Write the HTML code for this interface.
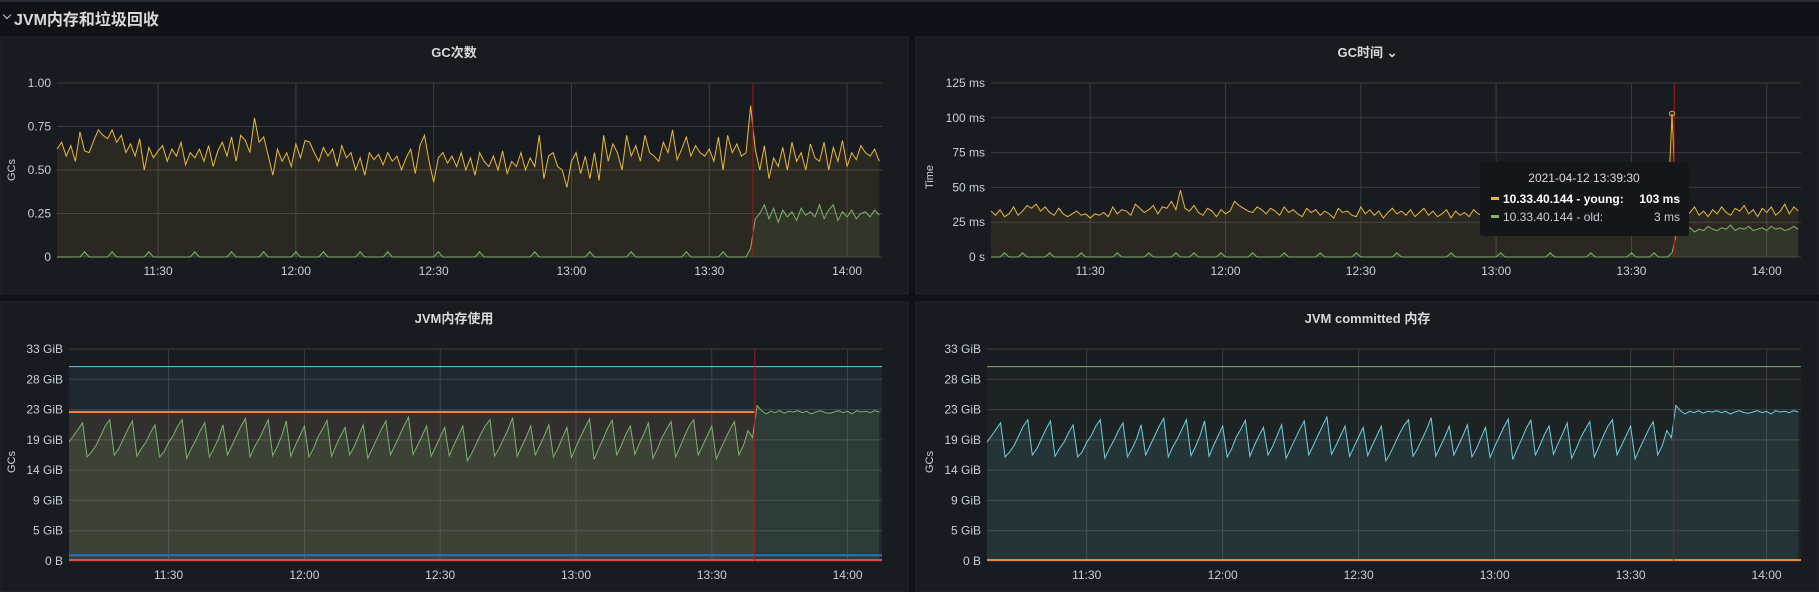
<!DOCTYPE html>
<html><head><meta charset="utf-8"><style>
html,body{margin:0;padding:0;background:#111217;width:1819px;height:592px;overflow:hidden;font-family:"Liberation Sans","Noto Sans CJK SC",sans-serif;}
#hdr{position:absolute;left:0;top:0;width:1819px;height:36px;background:#111217;border-top:2px solid #2a2b30;box-sizing:border-box;}
#hdr span{position:absolute;left:14px;top:4px;color:#d8d9da;font-size:16px;font-weight:bold;}
#hdr i{position:absolute;left:4px;top:10px;width:5px;height:5px;border-right:1.5px solid #c7d0d9;border-bottom:1.5px solid #c7d0d9;transform:rotate(45deg);}
svg{position:absolute;left:0;top:0;}
</style></head><body>
<div id="hdr"><i></i><span>JVM内存和垃圾回收</span></div>
<svg id="c" width="1819" height="592"></svg>
<script>
const tickLabels=["11:30","12:00","12:30","13:00","13:30","14:00"];
const tickMinutes=[690,720,750,780,810,840];
const tStart=668, tEnd=847.6, hoverMinute=819.5;
const gcYoung=[0.62,0.66,0.58,0.64,0.55,0.72,0.61,0.6,0.67,0.73,0.7,0.68,0.73,0.66,0.7,0.6,0.65,0.58,0.68,0.5,0.63,0.57,0.61,0.64,0.55,0.62,0.58,0.66,0.53,0.6,
0.57,0.62,0.55,0.64,0.52,0.61,0.66,0.58,0.69,0.55,0.7,0.67,0.6,0.8,0.66,0.69,0.58,0.47,0.62,0.55,0.6,0.52,0.65,0.57,0.67,0.66,0.6,0.55,0.63,0.58,
0.62,0.52,0.64,0.57,0.6,0.5,0.57,0.47,0.6,0.56,0.59,0.53,0.6,0.55,0.58,0.5,0.57,0.62,0.48,0.64,0.7,0.55,0.43,0.57,0.6,0.54,0.58,0.52,0.6,0.5,
0.57,0.47,0.6,0.55,0.52,0.58,0.5,0.61,0.48,0.55,0.52,0.6,0.5,0.57,0.52,0.7,0.45,0.58,0.6,0.52,0.5,0.4,0.55,0.6,0.48,0.58,0.45,0.6,0.44,0.7,
0.55,0.65,0.6,0.5,0.7,0.58,0.64,0.55,0.7,0.6,0.58,0.55,0.66,0.6,0.73,0.56,0.62,0.69,0.58,0.64,0.6,0.58,0.62,0.55,0.69,0.5,0.7,0.6,0.65,0.58,
0.6,0.87,0.62,0.5,0.64,0.45,0.57,0.52,0.63,0.5,0.66,0.55,0.6,0.5,0.65,0.57,0.55,0.66,0.5,0.63,0.55,0.67,0.52,0.6,0.56,0.64,0.6,0.58,0.62,0.55];
const gcOld=[0,0,0,0,0,0,0.03,0,0,0,0,0,0.03,0,0,0,0,0,0,0,0.03,0,0,0,0,0,0,0,0,0,0.03,0,0,0,0,0,0,0,0.03,0,0,0,0,0,0,0.03,0,0,0,0,0,0,0.03,0,0,0,0,0,0.03,0,
0,0,0,0,0,0,0.03,0,0,0,0,0,0.03,0,0,0,0,0,0,0,0,0,0,0.03,0,0,0,0,0,0,0,0,0.03,0,0,0,0,0,0,0,0,0,0,0,0.03,0,0,0,0,0,0,0,0,0,0,0,0.03,0,0,0,
0,0,0,0,0,0.03,0,0,0,0,0,0,0,0,0,0,0,0.03,0,0,0,0,0,0,0,0.03,0,0,0,0,0,0.05,0.22,0.25,0.3,0.22,0.28,0.2,0.27,0.23,0.26,0.21,0.28,0.24,0.26,0.23,0.3,0.22,0.27,0.3,0.21,0.26,0.23,0.27,0.22,0.25,0.26,0.23,0.27,0.24];
const gcTimeYoung=[33,30,34,29,31,36,30,33,37,35,38,33,36,32,30,35,31,29,31,33,30,31,28,31,30,32,29,36,31,34,
33,30,38,35,32,34,37,31,36,35,40,34,48,35,33,37,32,30,35,33,29,34,31,33,40,37,35,33,32,36,
34,31,35,33,30,36,32,34,31,29,35,32,34,30,33,31,28,35,32,33,30,29,36,31,34,30,33,28,32,35,
31,33,30,34,29,32,35,30,33,29,31,34,28,33,30,32,29,34,31,30,28,33,30,27,31,29,26,30,28,27,
30,28,32,29,27,31,30,28,29,26,30,29,31,28,27,30,29,28,27,30,28,26,29,27,30,28,26,29,27,28,30,
103,
30,35,29,32,36,30,33,29,34,31,36,32,30,35,33,37,31,34,29,35,32,36,30,33,38,31,36,33];
const gcTimeOld=[0,0,0,3,0,0,0,3,0,0,0,0,0,3,0,0,0,0,0,0,3,0,0,0,0,0,0,0,3,0,0,0,0,0,0,3,0,0,0,0,0,3,0,0,0,3,0,0,0,0,0,3,0,0,0,0,0,0,3,0,
0,0,0,0,0,3,0,0,0,0,0,0,0,3,0,0,0,0,0,0,0,3,0,0,0,0,0,0,0,0,3,0,0,0,0,0,0,0,0,0,0,0,3,0,0,0,0,0,0,0,0,0,0,3,0,0,0,0,0,0,
0,0,0,0,3,0,0,0,0,0,0,0,0,3,0,0,0,0,0,0,0,0,3,0,0,0,0,3,0,0,0,3,17,20,19,21,18,20,19,22,20,19,21,20,23,19,21,20,22,19,20,21,19,22,20,21,19,20,22,20];
const heapUsed=[18.5,19.5,20.5,21.5,16.2,17,18, 19.5,21,22,16.5,17.5,19,20.5, 21.8,16.3,17.5,18.5,20,21.2,16.2, 17,18.5,19.5,21,22,16,17.5,
18.8,20.3,21.5,16.2,17.5,19,21.2, 16.5,18,19.5,21,22.2,16.2,17.8, 19,20.5,22,16.4,17.8,19.5,21.8, 16.3,18,19.5,21,16.2,17.5,19.3,
20.5,21.9,16.3,18,19.5,20.8,16.5, 17.8,19.5,21.2,16,17.5,19,20.5, 21.8,16.5,18,19.5,21,22.4,16.6, 18,19.5,21,16.3,17.8,19.3,20.8,
16.4,18,19.5,21,15.6,16.8,18.3, 19.8,21.1,22,16.3,17.5,19,20.5, 22.3,16.3,17.8,19.3,21,16.5,18, 19.5,21.2,16.2,17.5,19.2,20.8,16.1,
17.8,19.3,20.8,22.1,15.8,17.5,19, 20.7,21.9,16.5,18,19.7,21,16.6, 18.3,19.8,21.5,16,17.5,19.2,20.5, 21.7,16.2,17.8,19.5,21,22,16.5,
18,19.5,21,15.9,17.5,19,20.5, 21.7,16.5,18,20.3,19.2,
24.2,23.4,22.9,23.3,23.1,23.4,23.0,23.3,23.2,23.4,23.1,23.3,22.9,23.2,23.4,23.1,23.0,23.2,23.4,23.1,23.3,22.9,23.4,23.2,23.3,23.1,23.4,23.2];
const heapMaxTimes=[668,847.6], heapMaxValues=[30.25,30.25];
const heapCommitTimes=[668,819.5], heapCommitValues=[23.2,23.2];
const nonHeapTimes=[668,847.6], nonHeapValues=[0.9,0.9];
const smallTimes=[668,847.6], smallValues=[0.15,0.15];
const gcTicks=[0,0.25,0.5,0.75,1], gcTickLabels=["0","0.25","0.50","0.75","1.00"];
const msTicks=[0,25,50,75,100,125], msTickLabels=["0 s","25 ms","50 ms","75 ms","100 ms","125 ms"];
const memTicks=[0,1,2,3,4,5,6,7], memTickLabels=["0 B","5 GiB","9 GiB","14 GiB","19 GiB","23 GiB","28 GiB","33 GiB"];
const memMax=33;

const NS="http://www.w3.org/2000/svg";
const svg=document.getElementById('c');
function mk(tag,attrs,parent){const e=document.createElementNS(NS,tag);for(const k in attrs)e.setAttribute(k,attrs[k]);(parent||svg).appendChild(e);return e;}
function txt(s,attrs,parent){const e=mk('text',attrs,parent);e.textContent=s;return e;}

function panel(p){
  const g=mk('g',{});
  
  
  const bg=mk('rect',{x:p.px,y:p.py,width:p.pw,height:p.ph,fill:'#181b1f',stroke:'#25272c'},g);
  
  
  const t=txt(p.title,{x:p.px+p.pw/2,y:p.ty,'text-anchor':'middle',fill:'#d8d9da','font-size':13,'font-weight':'bold'},g);
  
  
  const X=m=>p.x0+(m-tStart)/(tEnd-tStart)*(p.x1-p.x0);
  const Y=v=>p.y1-(v/p.ymax)*(p.y1-p.y0);
  p.X=X;p.Y=Y;
  p.yt.forEach((v,i)=>{const y=Y(v*p.tickStep);
    const l=mk('line',{x1:p.x0,x2:p.x1,y1:y,y2:y,stroke:'#3b3d42','stroke-width':1},g);
    
    const tl=txt(p.ytl[i],{x:p.x0-6,y:y+4,'text-anchor':'end',fill:'#c7d0d9','font-size':12},g);
    });
  tickMinutes.forEach((m,i)=>{const x=X(m);
    const l=mk('line',{x1:x,x2:x,y1:p.y0,y2:p.y1,stroke:'#3b3d42','stroke-width':1},g);
    
    const tl=txt(tickLabels[i],{x:x,y:p.y1+18,'text-anchor':'middle',fill:'#c7d0d9','font-size':12},g);
    });
  const at=txt(p.ytitle,{x:0,y:0,transform:`translate(${p.atx},${p.aty}) rotate(-90)`,'text-anchor':'middle',fill:'#c7d0d9','font-size':11},g);
  
  p.series.forEach(s=>{
    const times=s.t||s.v.map((_,i)=>tStart+i);
    const pts=s.v.map((v,i)=>[X(times[i]),Y(v)]);
    if(s.fill){const a=mk('path',{d:'M'+pts[0][0]+','+Y(0)+' L'+pts.map(q=>q.join(',')).join(' L')+' L'+pts[pts.length-1][0]+','+Y(0)+'Z',fill:s.fill},g);
      }
    const l=mk('polyline',{points:pts.map(q=>q.join(',')).join(' '),fill:'none',stroke:s.c,'stroke-width':s.w||1},g);
    
  });
  const hx=X(hoverMinute);
  const hl=mk('line',{x1:hx,x2:hx,y1:p.y0,y2:p.y1,stroke:'#a01818','stroke-width':1},g);
  
  return p;
}
panel({name:'gc-count-panel',title:'GC次数',px:0,py:37,pw:908,ph:257,ty:57,x0:57,x1:882,y0:83,y1:257,ymax:1,tickStep:1,yt:gcTicks,ytl:gcTickLabels,ytitle:'GCs',atx:15,aty:170,
  series:[
  {name:'young-gc-count-line',v:gcYoung,c:'#eab839',fill:'rgba(234,184,57,0.09)'},
  {name:'old-gc-count-line',v:gcOld,c:'#7eb26d',fill:'rgba(126,178,109,0.1)'}]});
const p2=panel({name:'gc-time-panel',title:'GC时间 ⌄',px:916,py:37,pw:903,ph:257,ty:57,x0:991,x1:1801,y0:83,y1:257,ymax:125,tickStep:1,yt:msTicks,ytl:msTickLabels,ytitle:'Time',atx:933,aty:177,
  series:[
  {name:'young-gc-time-line',v:gcTimeYoung,c:'#eab839',fill:'rgba(234,184,57,0.09)'},
  {name:'old-gc-time-line',v:gcTimeOld,c:'#7eb26d',fill:'rgba(126,178,109,0.1)'}]});
panel({name:'jvm-memory-used-panel',title:'JVM内存使用',px:0,py:302,pw:908,ph:290,ty:323,x0:69,x1:882,y0:349,y1:561,ymax:memMax,tickStep:memMax/7,yt:memTicks,ytl:memTickLabels,ytitle:'GCs',atx:15,aty:462,
  series:[
  {name:'heap-max-line',t:heapMaxTimes,v:heapMaxValues,c:'#6ed0e0',fill:'rgba(110,208,224,0.08)'},
  {name:'heap-committed-line',t:heapCommitTimes,v:heapCommitValues,c:'#ef843c',w:2,fill:'rgba(239,132,60,0.09)'},
  {name:'heap-used-line',v:heapUsed,c:'#7eb26d',fill:'rgba(126,178,109,0.14)'},
  {name:'nonheap-line',t:nonHeapTimes,v:nonHeapValues,c:'#1f78c1',w:2},
  {name:'small-pool-line',t:smallTimes,v:smallValues,c:'#e24d42',w:2}]});
panel({name:'jvm-committed-memory-panel',title:'JVM committed 内存',px:916,py:302,pw:903,ph:290,ty:323,x0:987,x1:1801,y0:349,y1:561,ymax:memMax,tickStep:memMax/7,yt:memTicks,ytl:memTickLabels,ytitle:'GCs',atx:933,aty:462,
  series:[
  {name:'committed-max-line',t:heapMaxTimes,v:heapMaxValues,c:'#7eb26d',fill:'rgba(126,178,109,0.06)'},
  {name:'committed-heap-line',v:heapUsed,c:'#6ed0e0',fill:'rgba(110,208,224,0.1)'},
  {name:'committed-small-line',t:smallTimes,v:smallValues,c:'#ef843c',w:2}]});
const hc=mk('circle',{cx:p2.X(tStart+151),cy:p2.Y(103),r:2.5,fill:'none',stroke:'#eab839'});


const tip=mk('g',{});


mk('rect',{x:1480,y:162,width:209,height:74,rx:3,fill:'#141619'},tip);
txt('2021-04-12 13:39:30',{x:1584,y:182,'text-anchor':'middle',fill:'#d8d9da','font-size':12},tip);
mk('rect',{x:1491,y:197,width:8,height:3,fill:'#eab839'},tip);
txt('10.33.40.144 - young:',{x:1503,y:203,fill:'#ffffff','font-size':12,'font-weight':'bold'},tip);
txt('103 ms',{x:1680,y:203,'text-anchor':'end',fill:'#ffffff','font-size':12,'font-weight':'bold'},tip);
mk('rect',{x:1491,y:215,width:8,height:3,fill:'#7eb26d'},tip);
txt('10.33.40.144 - old:',{x:1503,y:221,fill:'#c7d0d9','font-size':12},tip);
txt('3 ms',{x:1680,y:221,'text-anchor':'end',fill:'#c7d0d9','font-size':12},tip);
</script>
</body></html>
